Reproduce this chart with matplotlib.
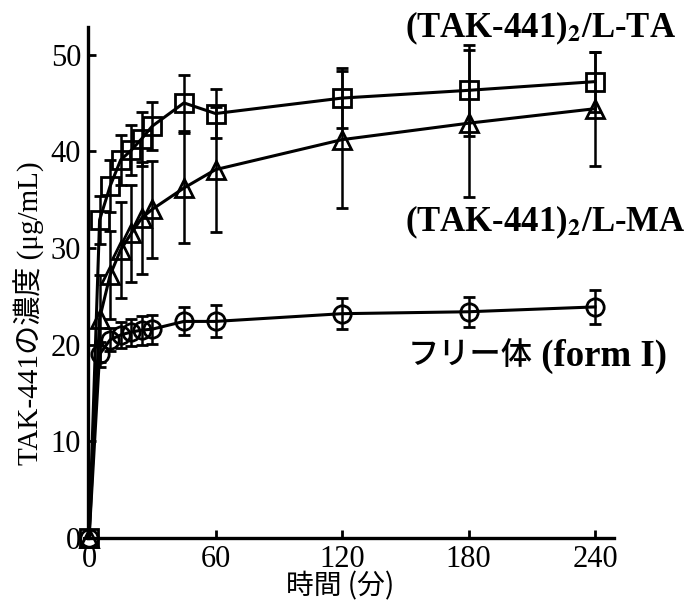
import matplotlib
matplotlib.use("Agg")
import matplotlib.pyplot as plt

# ---- data ----
time_min = [0, 5, 10, 15, 20, 25, 30, 45, 60, 120, 180, 240]
lta = [0, 32.9, 36.4, 39.1, 40.1, 41.3, 42.6, 45.0, 43.9, 45.5, 46.3, 47.2]
lta_err = [0, 2.5, 2.7, 2.6, 2.6, 2.8, 2.5, 2.9, 2.5, 3.1, 4.7, 3.1]
lma = [0, 22.7, 27.2, 29.8, 31.5, 33.1, 34.0, 36.2, 38.1, 41.2, 42.9, 44.4]
lma_err = [0, 4.5, 4.5, 5.0, 5.0, 5.8, 5.0, 5.7, 6.5, 7.1, 7.6, 5.9]
form1 = [0, 19.0, 20.5, 21.0, 21.3, 21.5, 21.6, 22.4, 22.4, 23.2, 23.4, 23.9]
form1_err = [0, 1.3, 1.2, 1.3, 1.4, 1.5, 1.5, 1.45, 1.65, 1.6, 1.55, 1.8]

x_ticks = [0, 60, 120, 180, 240]
y_ticks = [0, 10, 20, 30, 40, 50]

label_lta = r"(TAK-441)$_{\mathbf{2}}$/L-TA"
label_lma = r"(TAK-441)$_{\mathbf{2}}$/L-MA"
label_form1_jp = "フリー体"
label_form1_en = " (form I)"
xlabel = "時間 (分)"
ylabel = "TAK-441の濃度 (μg/mL)"

plt.rcParams['mathtext.fontset'] = 'stix'
serif_cjk = ['Liberation Serif', 'Noto Sans CJK JP']

fig = plt.figure(figsize=(6.87, 6.06), dpi=100)
ax = fig.add_axes([88/687, 68/606, 526/687, 511/606])

series = [(lta, lta_err, 's'), (lma, lma_err, '^'), (form1, form1_err, 'o')]
for vals, errs, mk in series:
    line = ax.errorbar(time_min, vals, yerr=errs, fmt='-' + mk, color='black',
                       mfc='none', mec='black', mew=2.0, ms=12.5, lw=2.2,
                       elinewidth=1.8, capsize=4.5, capthick=1.8)
    line.lines[0].set_clip_on(False)
    for art in line.lines[1]:
        art.set_clip_on(False)
    for art in line.lines[2]:
        art.set_clip_on(False)

ax.set_xlim(-0.5, 249)
ax.set_ylim(0, 52.85)
ax.set_xticks(x_ticks)
ax.set_yticks(y_ticks)
for s in ['top', 'right']:
    ax.spines[s].set_visible(False)
for s in ['left', 'bottom']:
    ax.spines[s].set_linewidth(2.4)
ax.tick_params(direction='in', length=6, width=2, labelsize=22, pad=5)
for lab in ax.get_xticklabels() + ax.get_yticklabels():
    lab.set_fontfamily('Liberation Serif')

ax.set_xlabel(xlabel, fontsize=20, family='Noto Sans CJK JP')
ax.xaxis.set_label_coords(0.479, -0.066)
ax.set_ylabel(ylabel, fontsize=21, family=serif_cjk)
ax.yaxis.set_label_coords(-0.082, 0.44)

ax.text(150, 52.7, label_lta, fontsize=25, fontweight='bold', family='Liberation Serif',
        ha='left', va='center', clip_on=False)
ax.text(150, 32.6, label_lma, fontsize=25, fontweight='bold', family='Liberation Serif',
        ha='left', va='center', clip_on=False)
jp = ax.text(151, 18.9, label_form1_jp, fontsize=22.5, fontweight='medium', family='Noto Sans CJK JP',
             ha='left', va='center', clip_on=False)
ax.annotate(label_form1_en, xy=(1.0, 0.45), xycoords=jp, fontsize=26.5, fontweight='bold',
            family='Liberation Serif', ha='left', va='center', annotation_clip=False)

fig.savefig("out.png", dpi=100)
